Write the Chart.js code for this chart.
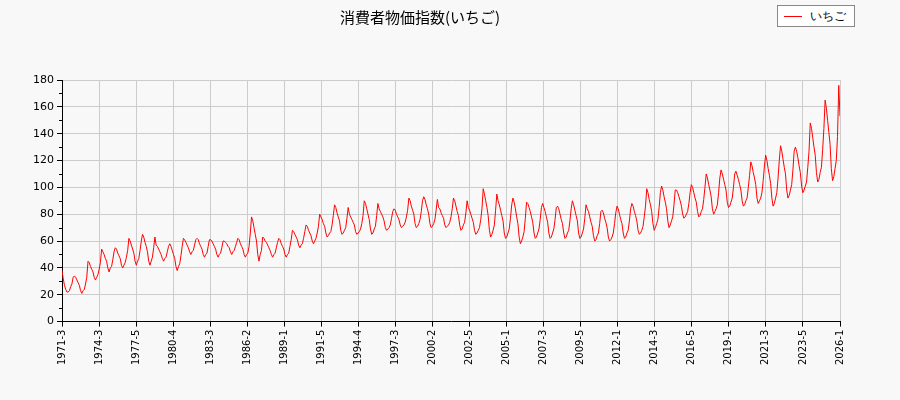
<!DOCTYPE html>
<html>
<head>
<meta charset="utf-8">
<script src="https://cdn.jsdelivr.net/npm/chart.js@4"></script>
<style>
body{margin:0;background:#f8f8f8;font-family:"DejaVu Sans",sans-serif;}
#wrap{position:relative;width:900px;height:400px;}
#legend{position:absolute;left:777px;top:5px;width:76px;height:20px;border:1px solid #888;background:#fff;font-size:12px;line-height:20px;}
#legend span.l{position:absolute;left:6px;top:10px;width:18px;border-top:1px solid red;}
#legend span.t{position:absolute;left:32px;top:0;}
</style>
</head>
<body>
<div id="wrap">
<canvas id="c" width="900" height="400"></canvas>
<div id="legend"><span class="l"></span><span class="t">いちご</span></div>
</div>
<script>
// 消費者物価指数(いちご) 1971-3 .. 2026-1
const seriesName = "いちご";
const tickLabels = ["1971-3","1974-3","1977-5","1980-4","1983-3","1986-2","1989-1","1991-5","1994-4","1997-3","2000-2","2002-5","2005-1","2007-3","2009-5","2012-1","2014-3","2016-5","2019-1","2021-3","2023-5","2026-1"];
const yTicks = [0,20,40,60,80,100,120,140,160,180];
const yMinor = [10,30,50,70,90,110,130,150,170];

const values = [
38,32,27,24,22,22,23,26,28,33,
34,33,31,29,27,23,21,23,24,28,33,
45,44,41,39,37,33,31,33,35,39,44,
54,52,50,47,45,40,37,40,41,46,52,
55,54,51,49,47,42,40,42,44,48,53,
62,60,57,54,51,45,42,45,47,53,60,
65,63,59,56,52,45,42,45,48,55,63,
57,56,54,52,50,47,45,47,48,52,56,
58,56,53,50,47,41,38,41,43,49,56,
62,61,59,57,55,52,50,52,53,57,61,
62,61,58,56,54,50,48,50,51,56,61,
61,60,58,56,54,50,48,50,51,55,60,
60,59,58,56,55,52,50,52,53,56,59,
62,61,58,56,54,50,48,50,51,56,66,
78,75,70,65,60,50,45,50,53,63,62,
60,59,57,55,53,50,48,50,51,55,59,
62,61,58,56,54,50,48,50,51,56,61,
68,67,65,63,61,57,55,57,58,62,67,
72,71,68,66,64,60,58,60,62,66,71,
80,78,76,73,71,66,63,64,66,67,72,79,
87,85,81,78,75,68,65,66,68,70,77,85,
80,78,76,74,72,67,65,66,67,69,73,79,
90,88,84,80,76,69,65,66,69,71,79,88,
84,82,80,78,75,70,68,69,70,72,77,82,
84,83,80,78,76,72,70,71,72,74,78,83,
92,90,86,83,80,73,70,71,73,76,82,90,
93,91,87,84,80,73,70,71,73,76,83,91,
85,84,81,79,77,72,70,71,72,74,78,84,
92,90,86,82,79,72,68,69,72,74,81,90,
85,83,80,77,74,68,65,66,68,70,76,84,
99,95,90,85,79,68,63,65,68,72,83,95,
90,87,83,79,75,66,62,63,66,69,77,87,
92,89,84,78,73,63,58,60,63,67,77,89,
88,85,82,78,74,66,62,63,66,69,76,85,
88,85,82,78,74,66,62,63,66,69,76,85,
86,84,80,76,73,66,62,63,66,68,75,84,
90,87,83,79,75,66,62,63,66,69,77,87,
84,82,78,74,71,64,60,61,64,66,73,82,
83,81,77,74,70,63,60,61,63,66,73,81,
86,84,80,76,73,66,62,63,66,68,75,84,
88,86,82,79,75,68,65,66,68,71,78,86,
99,96,91,87,82,73,68,70,73,76,85,96,
101,98,93,89,84,75,70,72,75,78,87,98,
98,96,93,90,86,80,77,78,80,82,88,96,
102,100,96,92,89,82,78,79,82,84,91,100,
110,107,102,98,93,84,80,82,84,87,96,107,
113,110,106,102,98,89,85,86,89,92,100,110,
112,109,106,102,98,90,86,87,90,92,100,109,
119,116,111,107,102,92,88,90,92,96,105,116,
124,120,114,109,103,92,86,88,92,96,107,120,
131,127,121,115,110,98,92,94,98,102,113,127,
130,127,122,116,111,101,96,98,101,104,115,127,
148,144,137,130,124,111,104,106,111,115,128,144,
165,159,150,141,132,114,105,108,114,120,138,176,
153
];

const last = values.length - 1;
const points = values.map((v, i) => ({x: i, y: v}));

// small ticks between the labelled ones on the y axis
const minorTicks = {
id: "minorTicks",
afterDraw(chart) {
const y = chart.scales.y, ctx = chart.ctx, left = chart.chartArea.left;
ctx.save();
ctx.strokeStyle = "#000";
ctx.lineWidth = 1;
yMinor.forEach(v => {
const py = Math.round(y.getPixelForValue(v)) + 0.5;
ctx.beginPath();
ctx.moveTo(left - 3, py);
ctx.lineTo(left, py);
ctx.stroke();
});
ctx.restore();
}
};

new Chart(document.getElementById("c"), {
type: "line",
data: {
datasets: [{
label: seriesName,
data: points,
borderColor: "#ff0000",
borderWidth: 1,
pointRadius: 0,
tension: 0
}]
},
options: {
responsive: false,
animation: false,
layout: {padding: {left: 0, right: 60, top: 0, bottom: 32}},
plugins: {
legend: {display: false},
tooltip: {enabled: false},
title: {
display: true,
text: "消費者物価指数(いちご)",
color: "#000",
font: {family: "Noto Sans CJK JP", size: 15, weight: "normal"},
padding: {top: 8, bottom: 54}
}
},
scales: {
x: {
type: "linear",
min: 0,
max: last,
afterBuildTicks: ax => {
ax.ticks = tickLabels.map((l, k) => ({value: k * last / (tickLabels.length - 1)}));
},
ticks: {
autoSkip: false,
maxRotation: 90,
minRotation: 90,
color: "#000",
font: {family: "DejaVu Sans", size: 10},
callback: (v, i) => tickLabels[i]
},
grid: {color: "#cccccc", tickLength: 5, tickColor: "#000"},
border: {color: "#000"}
},
y: {
min: 0,
max: 180,
afterBuildTicks: ax => { ax.ticks = yTicks.map(v => ({value: v})); },
afterFit: ax => { ax.width = 62; },
ticks: {color: "#000", font: {family: "DejaVu Sans", size: 11}},
grid: {color: "#cccccc", tickLength: 5, tickColor: "#000"},
border: {color: "#000"}
}
}
},
plugins: [minorTicks]
});
</script>
</body>
</html>
